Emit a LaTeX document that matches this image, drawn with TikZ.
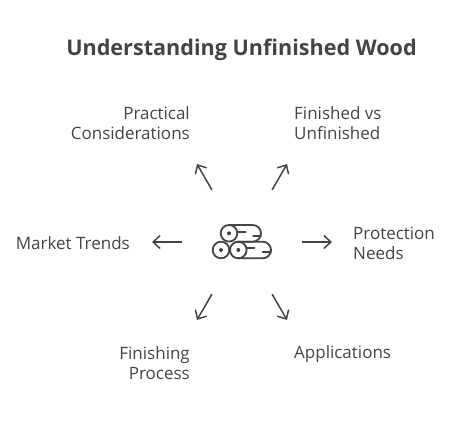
\documentclass[tikz,border=0pt]{standalone}
\usepackage{fontspec}
\setmainfont{Open Sans}
\usepackage{xcolor}
\usetikzlibrary{arrows.meta}
\definecolor{inkgrey}{HTML}{444444}

\begin{document}
\begin{tikzpicture}[
  x=1pt, y=1pt,
  heading/.style={text=inkgrey, font=\fontsize{21.6}{26}\selectfont\bfseries},
  topic/.style={text=inkgrey, inner sep=0pt, font=\fontsize{17}{20}\selectfont},
  hubnode/.style={circle, minimum size=120pt, inner sep=0pt},
  arr/.style={-{Straight Barb[length=7pt, width=13pt]}, draw=inkgrey, line width=1.5pt},
  logline/.style={draw=inkgrey, line width=1.8pt, line cap=round},
  logdot/.style={fill=inkgrey}
]
  \useasboundingbox (0,0) rectangle (464,424);

  \node[heading] (title) at (241.5,374) {Understanding Unfinished Wood};
  \node[hubnode] (hub) at (242,182) {};

  \node[topic, anchor=east, align=right] (practical) at (190,301) {Practical\\Considerations};
  \node[topic, anchor=west, align=left]  (finished)  at (294,301) {Finished vs\\Unfinished};
  \node[topic, anchor=east]              (market)    at (130,181) {Market Trends};
  \node[topic, anchor=west, align=left]  (protect)   at (353,181) {Protection\\Needs};
  \node[topic, anchor=east, align=right] (process)   at (190,61)  {Finishing\\Process};
  \node[topic, anchor=west]              (apps)      at (294,70)  {Applications};

  % arrow ends
  \coordinate (tipPractical) at ([shift={(120:90)}]hub.center);
  \coordinate (tipFinished)  at ([shift={(60:90)}]hub.center);
  \coordinate (tipMarket)    at ([shift={(180:90)}]hub.center);
  \coordinate (tipProtect)   at ([shift={(0:90)}]hub.center);
  \coordinate (tipProcess)   at ([shift={(240:90)}]hub.center);
  \coordinate (tipApps)      at ([shift={(300:90)}]hub.center);

  \draw[arr] (hub.120) -- (tipPractical);
  \draw[arr] (hub.60)  -- (tipFinished);
  \draw[arr] (hub.180) -- (tipMarket);
  \draw[arr] (hub.0)   -- (tipProtect);
  \draw[arr] (hub.240) -- (tipProcess);
  \draw[arr] (hub.300) -- (tipApps);

  % log pile
  \begin{scope}[shift={(hub.center)}]
    \draw[logline] (-13,17) -- (10.65,17) arc (90:-90:8.35) -- (-5,0.3);
    \draw[logline] (-3.7,0.3) -- (20.7,0.3) arc (90:-90:8.3) -- (-3.7,-16.3);
    \draw[logline] (-13,8.7) circle (8.3);
    \draw[logline] (-21,-8) circle (8.3);
    \draw[logline] (-3.7,-8) circle (8.3);
    \fill[logdot] (-13,8.7) circle (2);
    \fill[logdot] (-21,-8) circle (2);
    \fill[logdot] (-3.7,-8) circle (2);
    \draw[logline] (-3.7,10.3) -- (3.7,10.3);
    \draw[logline] (11.3,6) -- (19,6);
    \draw[logline] (5.3,-6.3) -- (12.3,-6.3);
    \draw[logline] (20.7,-10.3) -- (29,-10.3);
  \end{scope}
\end{tikzpicture}
\end{document}
